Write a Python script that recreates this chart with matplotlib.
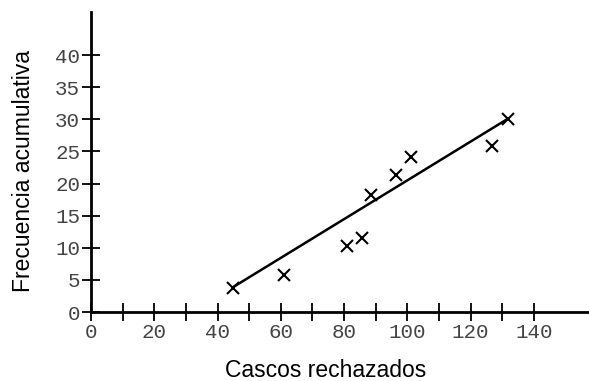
import matplotlib
matplotlib.use("Agg")
import matplotlib.pyplot as plt
from matplotlib.ticker import FixedLocator

# Datos
cascos = [45, 61, 81, 85.5, 88.5, 96.5, 101, 126.8, 131.8]
frecuencia = [3.7, 5.8, 10.2, 11.5, 18.2, 21.3, 24.2, 25.9, 30.0]

# Recta de ajuste (extremos)
recta_x = [45, 131.5]
recta_y = [3.9, 30.0]

x_ticks = [0, 20, 40, 60, 80, 100, 120, 140]
x_minor = [10, 30, 50, 70, 90, 110, 130]
y_ticks = [0, 5, 10, 15, 20, 25, 30, 35, 40]

fig = plt.figure(figsize=(5.89, 3.81), dpi=100)
ax = fig.add_axes([91 / 589, 69 / 381, 498 / 589, 300 / 381])

ax.plot(recta_x, recta_y, color="black", linewidth=1.8, solid_capstyle="round")
ax.plot(cascos, frecuencia, linestyle="none", marker="x", color="black",
        markersize=8.5, markeredgewidth=1.5)

ax.set_xlim(0, 498 / 3.164)
ax.set_ylim(0, 300 / 6.425)

for s in ["top", "right"]:
    ax.spines[s].set_visible(False)
for s in ["left", "bottom"]:
    ax.spines[s].set_linewidth(2)

ax.set_xticks(x_ticks)
ax.xaxis.set_minor_locator(FixedLocator(x_minor))
ax.set_yticks(y_ticks)

mono = "Liberation Mono"
ax.set_xticklabels([str(v) for v in x_ticks], family=mono, fontsize=15, color="#444444")
ax.set_yticklabels([str(v) for v in y_ticks], family=mono, fontsize=15, color="#444444")

ax.tick_params(axis="both", which="both", direction="inout", length=13.5,
               width=1.3, color="black")
ax.tick_params(axis="x", which="major", pad=1)
ax.tick_params(axis="y", which="major", pad=1)

ax.set_xlabel("Cascos rechazados", family="Liberation Sans", fontsize=16.5)
ax.set_ylabel("Frecuencia acumulativa", family="Liberation Sans", fontsize=16.5)
# posiciones de las etiquetas en pixeles de la figura (desde abajo)
ax.xaxis.set_label_coords(326 / 589, 4 / 381, transform=fig.transFigure)
ax.xaxis.label.set_va("baseline")
ax.yaxis.set_label_coords(24 / 589, 210 / 381, transform=fig.transFigure)
ax.yaxis.label.set_va("center")

fig.savefig("out.png", dpi=100)
